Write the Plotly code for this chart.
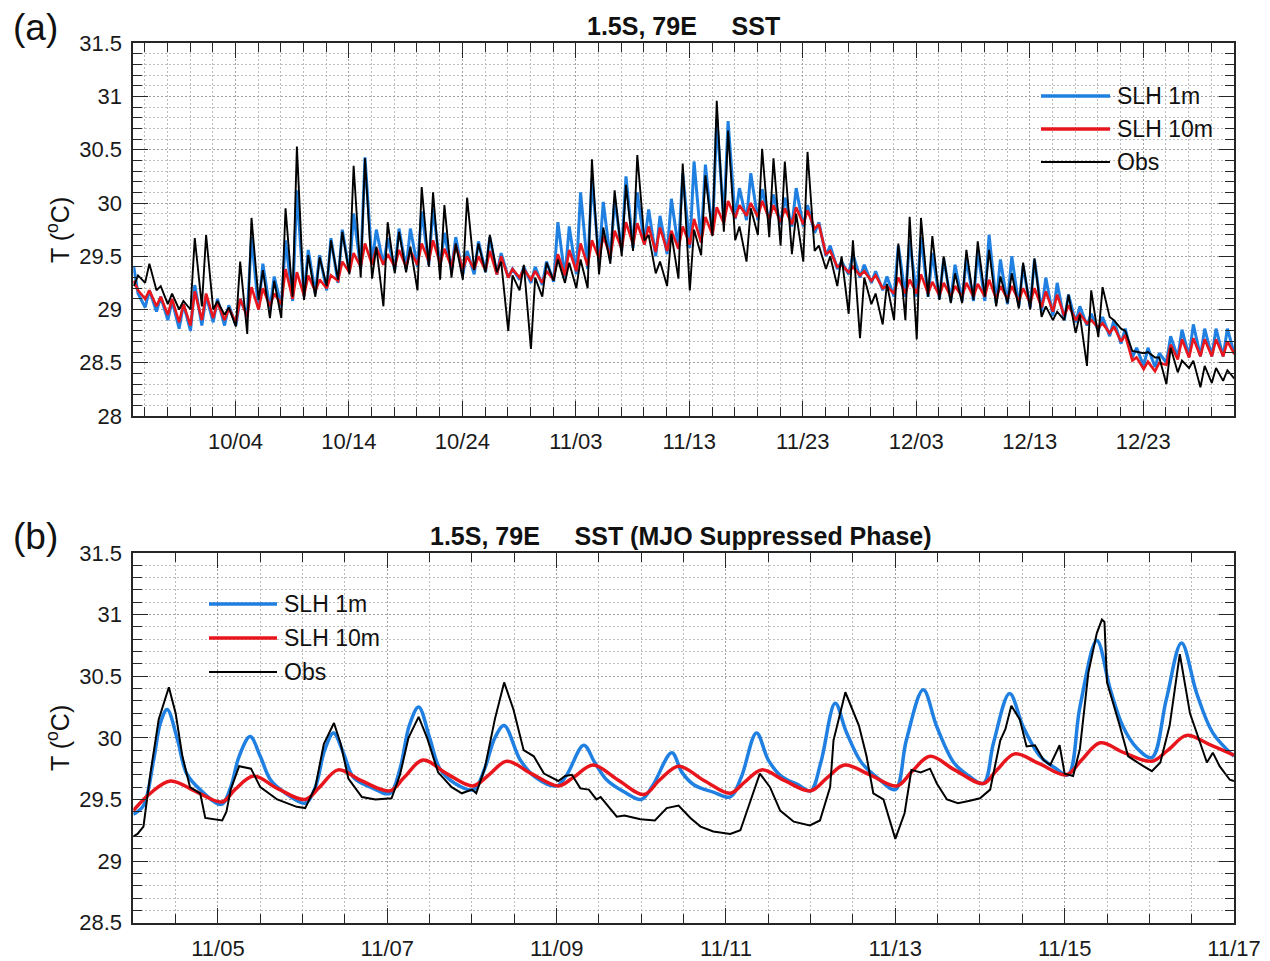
import pandas as pd
import plotly.graph_objects as go

W, H = 1270, 961
FONT = "Arial, 'Liberation Sans', Helvetica, sans-serif"
BLUE = "#1f80e2"
RED = "#e8161c"
BLACK = "#000000"
AXIS = "#262626"

# ---- panel (a): 2011-09-25 .. 2011-12-31, one early-morning (01 UTC) and one
# afternoon (10 UTC) reading per day; the *_am lists carry one extra value (12/31)
a_start = "2011-09-25"
a_blue_am = [29.40, 29.02, 28.98, 28.90, 28.82, 28.80, 28.85, 28.88, 28.85, 28.85,
             28.95, 29.00, 29.00, 29.03, 29.08, 29.12, 29.15, 29.18, 29.25, 29.35,
             29.38, 29.43, 29.42, 29.37, 29.38, 29.40, 29.42, 29.40, 29.37, 29.33,
             29.33, 29.35, 29.33, 29.30, 29.28, 29.25, 29.23, 29.26, 29.30, 29.33,
             29.38, 29.46, 29.47, 29.55, 29.58, 29.61, 29.50, 29.52, 29.57, 29.58,
             29.63, 29.70, 29.84, 29.85, 29.84, 29.84, 29.83, 29.80, 29.78, 29.78,
             29.72, 29.50, 29.38, 29.33, 29.30, 29.25, 29.18, 29.12, 29.12, 29.12,
             29.12, 29.10, 29.08, 29.08, 29.08, 29.08, 29.06, 29.05, 29.03, 29.02,
             28.98, 28.94, 28.90, 28.88, 28.85, 28.80, 28.75, 28.68, 28.55, 28.47,
             28.46, 28.50, 28.55, 28.56, 28.56, 28.56, 28.56, 28.58]
a_blue_pm = [29.15, 29.18, 29.12, 29.08, 29.05, 29.23, 29.13, 29.10, 29.04, 29.10,
             29.68, 29.43, 29.31, 29.65, 30.12, 29.56, 29.51, 29.67, 29.75, 29.90,
             30.43, 29.75, 29.67, 29.76, 29.76, 29.92, 29.95, 29.72, 29.68, 29.55,
             29.64, 29.68, 29.53, 29.38, 29.40, 29.40, 29.45, 29.82, 29.78, 30.10,
             30.23, 30.01, 30.04, 30.25, 30.10, 29.94, 29.88, 30.04, 30.28, 30.39,
             30.36, 30.79, 30.77, 30.14, 30.28, 30.13, 30.08, 30.05, 30.14, 29.98,
             29.82, 29.60, 29.45, 29.52, 29.42, 29.36, 29.31, 29.60, 29.65, 29.68,
             29.53, 29.48, 29.42, 29.48, 29.55, 29.70, 29.47, 29.50, 29.41, 29.47,
             29.30, 29.25, 29.14, 29.03, 28.96, 28.93, 28.90, 28.82, 28.64, 28.64,
             28.59, 28.75, 28.81, 28.86, 28.82, 28.82, 28.82]
a_red_am = [29.27, 29.10, 29.03, 28.95, 28.88, 28.85, 28.90, 28.92, 28.90, 28.88,
            28.93, 29.00, 29.03, 29.05, 29.10, 29.13, 29.17, 29.20, 29.27, 29.35,
            29.40, 29.42, 29.42, 29.40, 29.40, 29.42, 29.45, 29.43, 29.40, 29.38,
            29.38, 29.37, 29.33, 29.30, 29.30, 29.28, 29.25, 29.28, 29.32, 29.36,
            29.41, 29.48, 29.50, 29.57, 29.61, 29.61, 29.54, 29.55, 29.57, 29.61,
            29.63, 29.70, 29.81, 29.86, 29.88, 29.87, 29.85, 29.82, 29.80, 29.80,
            29.76, 29.52, 29.40, 29.35, 29.32, 29.27, 29.20, 29.15, 29.15, 29.15,
            29.15, 29.13, 29.12, 29.12, 29.12, 29.12, 29.10, 29.10, 29.08, 29.06,
            29.02, 28.98, 28.94, 28.90, 28.87, 28.83, 28.78, 28.70, 28.52, 28.44,
            28.42, 28.48, 28.53, 28.55, 28.56, 28.56, 28.56, 28.58]
a_red_pm = [29.18, 29.18, 29.12, 29.10, 29.05, 29.17, 29.15, 29.07, 29.01, 29.10,
            29.21, 29.20, 29.15, 29.38, 29.35, 29.32, 29.28, 29.32, 29.45, 29.53,
            29.62, 29.58, 29.52, 29.56, 29.55, 29.62, 29.65, 29.57, 29.60, 29.50,
            29.50, 29.55, 29.50, 29.38, 29.38, 29.36, 29.36, 29.52, 29.56, 29.62,
            29.65, 29.69, 29.74, 29.82, 29.81, 29.78, 29.77, 29.74, 29.78, 29.85,
            29.87, 29.96, 30.02, 29.98, 30.00, 30.02, 29.98, 29.95, 29.96, 29.93,
            29.80, 29.55, 29.42, 29.40, 29.36, 29.32, 29.22, 29.30, 29.28, 29.33,
            29.26, 29.25, 29.22, 29.25, 29.24, 29.28, 29.22, 29.22, 29.20, 29.20,
            29.17, 29.14, 29.04, 28.96, 28.90, 28.87, 28.84, 28.76, 28.55, 28.51,
            28.50, 28.67, 28.72, 28.73, 28.72, 28.72, 28.70]
a_obs_am = [29.22, 29.25, 29.18, 29.05, 29.00, 29.00, 29.03, 29.00, 28.95, 28.84,
            28.77, 29.09, 28.92, 28.92, 29.12, 29.09, 29.12, 29.22, 29.28, 29.33,
            29.30, 29.29, 29.03, 29.34, 29.35, 29.18, 29.40, 29.28, 29.30, 29.28,
            29.37, 29.35, 29.35, 28.80, 29.18, 28.63, 29.12, 29.27, 29.25, 29.20,
            29.20, 29.33, 29.43, 29.50, 29.55, 29.65, 29.34, 29.22, 29.29, 29.18,
            29.51, 29.69, 29.73, 29.65, 29.45, 29.70, 29.68, 29.60, 29.52, 29.45,
            29.55, 29.38, 29.22, 28.96, 28.73, 29.05, 28.86, 28.90, 28.90, 28.72,
            29.12, 29.09, 29.06, 29.06, 29.09, 29.12, 29.03, 29.06, 29.01, 29.00,
            28.93, 28.90, 28.90, 28.78, 28.47, 28.74, 28.93, 28.82, 28.61, 28.59,
            28.55, 28.30, 28.41, 28.45, 28.27, 28.31, 28.33, 28.35]
a_obs_pm = [29.32, 29.43, 29.22, 29.15, 29.08, 29.67, 29.70, 29.08, 29.02, 29.45,
            29.86, 29.37, 29.27, 29.95, 30.53, 29.51, 29.49, 29.65, 29.73, 30.35,
            30.42, 29.59, 29.82, 29.73, 29.59, 30.15, 30.10, 29.98, 29.62, 30.05,
            29.62, 29.70, 29.45, 29.32, 29.42, 29.30, 29.44, 29.47, 29.44, 29.47,
            30.41, 29.77, 30.12, 30.17, 30.45, 29.70, 29.45, 29.71, 30.37, 29.75,
            30.26, 30.96, 30.68, 29.78, 29.95, 30.51, 30.42, 30.39, 29.90, 30.48,
            29.60, 29.50, 29.50, 29.65, 29.30, 29.15, 29.24, 29.62, 29.87, 29.86,
            29.69, 29.50, 29.34, 29.56, 29.64, 29.56, 29.31, 29.34, 29.44, 29.48,
            29.03, 28.98, 29.14, 28.95, 29.18, 29.21, 28.90, 28.80, 28.60, 28.60,
            28.55, 28.64, 28.52, 28.52, 28.47, 28.45, 28.43]

# ---- panel (b): 2011-11-04 .. 2011-11-17, sample time in days since 11/04
b_start = "2011-11-04"
b_blue_t = [0.00, 0.12, 0.24, 0.32, 0.40, 0.52, 0.63, 0.79, 1.04, 1.15, 1.25, 1.38,
            1.50, 1.62, 1.80, 2.03, 2.15, 2.26, 2.365, 2.48, 2.60, 2.80, 3.03, 3.15,
            3.26, 3.37, 3.50, 3.62, 3.80, 4.02, 4.15, 4.27, 4.38, 4.57, 4.75, 5.00,
            5.12, 5.32, 5.45, 5.59, 5.80, 6.00, 6.14, 6.36, 6.48, 6.62, 6.85, 7.05,
            7.18, 7.36, 7.50, 7.65, 7.85, 8.00, 8.12, 8.29, 8.42, 8.60, 8.80, 9.00,
            9.13, 9.33, 9.49, 9.69, 9.85, 10.04, 10.16, 10.35, 10.51, 10.71, 10.88,
            11.04, 11.18, 11.38, 11.54, 11.69, 11.85, 12.03, 12.20, 12.38, 12.56,
            12.75, 13.00]
b_blue = [29.38, 29.45, 29.82, 30.12, 30.23, 29.99, 29.71, 29.58, 29.46, 29.60, 29.85, 30.01,
          29.85, 29.66, 29.55, 29.47, 29.60, 29.90, 30.04, 29.88, 29.68, 29.60, 29.55, 29.75,
          30.10, 30.25, 30.00, 29.75, 29.63, 29.58, 29.75, 30.00, 30.10, 29.82, 29.68, 29.61,
          29.70, 29.94, 29.80, 29.66, 29.56, 29.50, 29.62, 29.88, 29.72, 29.62, 29.56, 29.52,
          29.68, 30.04, 29.82, 29.69, 29.62, 29.57, 29.80, 30.28, 30.05, 29.80, 29.67, 29.58,
          29.98, 30.39, 30.09, 29.80, 29.70, 29.63, 29.96, 30.36, 30.09, 29.85, 29.76,
          29.70, 30.25, 30.79, 30.39, 30.09, 29.92, 29.84, 30.31, 30.77, 30.36,
          30.04, 29.85]
b_red_t = [0.00, 0.20, 0.44, 0.75, 1.05, 1.20, 1.42, 1.70, 2.03, 2.20, 2.42, 2.70,
           3.03, 3.20, 3.42, 3.70, 4.01, 4.20, 4.41, 4.70, 5.02, 5.20, 5.43, 5.72,
           6.03, 6.22, 6.44, 6.75, 7.05, 7.22, 7.42, 7.70, 8.00, 8.20, 8.40, 8.70,
           9.02, 9.20, 9.41, 9.70, 10.04, 10.20, 10.41, 10.70, 11.02, 11.20, 11.42,
           11.70, 12.03, 12.22, 12.44, 12.70, 13.00]
b_red = [29.41, 29.55, 29.65, 29.56, 29.48, 29.58, 29.69, 29.59, 29.50, 29.60, 29.74, 29.65,
         29.57, 29.68, 29.82, 29.71, 29.61, 29.70, 29.81, 29.71, 29.61, 29.68, 29.78, 29.66,
         29.54, 29.66, 29.77, 29.65, 29.55, 29.64, 29.74, 29.65, 29.57, 29.68, 29.78, 29.70,
         29.61, 29.73, 29.85, 29.74, 29.63, 29.74, 29.87, 29.79, 29.70, 29.82, 29.96,
         29.88, 29.81, 29.90, 30.02, 29.95, 29.86]
b_obs_t = [0.00, 0.05, 0.12, 0.20, 0.30, 0.42, 0.50, 0.58, 0.67, 0.79,
           0.85, 0.95, 1.05, 1.10, 1.15, 1.25, 1.39, 1.50, 1.70, 1.93,
           2.03, 2.15, 2.25, 2.37, 2.45, 2.54, 2.70, 2.86, 3.05, 3.15,
           3.25, 3.37, 3.47, 3.60, 3.76, 3.88, 4.00, 4.05, 4.15, 4.27,
           4.38, 4.49, 4.61, 4.73, 4.85, 5.02, 5.10, 5.18, 5.28, 5.38,
           5.47, 5.52, 5.71, 5.80, 5.99, 6.16, 6.30, 6.44, 6.58, 6.70,
           6.85, 7.05, 7.17, 7.32, 7.40, 7.52, 7.64, 7.80, 7.99, 8.11,
           8.23, 8.27, 8.41, 8.57, 8.66, 8.74, 8.86, 9.00, 9.11, 9.19,
           9.30, 9.41, 9.49, 9.61, 9.74, 9.88, 10.00, 10.12, 10.18, 10.24,
           10.30, 10.37, 10.47, 10.55, 10.65, 10.75, 10.83, 10.94, 11.00, 11.10,
           11.18, 11.28, 11.38, 11.44, 11.47, 11.50, 11.65, 11.75, 11.93, 12.03,
           12.13, 12.24, 12.36, 12.48, 12.60, 12.68, 12.75, 12.83, 12.95, 13.00]
b_obs = [29.20, 29.22, 29.28, 29.70, 30.15, 30.41, 30.20, 29.85, 29.60, 29.55,
         29.35, 29.34, 29.33, 29.40, 29.58, 29.77, 29.75, 29.60, 29.50, 29.44,
         29.43, 29.60, 29.95, 30.12, 29.95, 29.67, 29.52, 29.50, 29.51, 29.70,
         30.00, 30.17, 30.00, 29.72, 29.60, 29.55, 29.58, 29.55, 29.75, 30.15,
         30.45, 30.23, 29.90, 29.85, 29.71, 29.65, 29.69, 29.70, 29.59, 29.58,
         29.50, 29.52, 29.36, 29.37, 29.34, 29.33, 29.43, 29.45, 29.35, 29.28,
         29.24, 29.22, 29.25, 29.55, 29.71, 29.60, 29.41, 29.32, 29.29, 29.33,
         29.60, 29.98, 30.37, 30.10, 29.85, 29.55, 29.50, 29.18, 29.39, 29.74,
         29.72, 29.75, 29.63, 29.50, 29.47, 29.49, 29.51, 29.58, 29.77, 29.98,
         30.07, 30.26, 30.15, 29.93, 29.94, 29.82, 29.78, 29.94, 29.71, 29.69,
         29.91, 30.53, 30.85, 30.96, 30.94, 30.45, 30.10, 29.85, 29.77, 29.73,
         29.80, 30.10, 30.68, 30.20, 29.96, 29.80, 29.88, 29.77, 29.66, 29.65]

series_names = ["SLH 1m", "SLH 10m", "Obs"]


def daily(start, am, pm):
    t0 = pd.Timestamp(start)
    xs, ys = [], []
    for i, v in enumerate(am):
        xs.append(t0 + pd.Timedelta(days=i, hours=1))
        ys.append(v)
        if i < len(pm):
            xs.append(t0 + pd.Timedelta(days=i, hours=10))
            ys.append(pm[i])
    return xs, ys


def stamped(start, ts):
    t0 = pd.Timestamp(start)
    return [t0 + pd.Timedelta(days=t) for t in ts]


fig = go.Figure()

# ---- panel (a) traces
for am, pm, color, width in [(a_blue_am, a_blue_pm, BLUE, 3),
                             (a_red_am, a_red_pm, RED, 2.6),
                             (a_obs_am, a_obs_pm, BLACK, 1.9)]:
    xs, ys = daily(a_start, am, pm)
    fig.add_trace(go.Scatter(x=xs, y=ys, mode="lines", xaxis="x", yaxis="y",
                             line=dict(color=color, width=width), hoverinfo="skip"))

# ---- panel (b) traces
for ts, vals, color, width, shape in [(b_blue_t, b_blue, BLUE, 3.5, "spline"),
                                      (b_red_t, b_red, RED, 3.5, "spline"),
                                      (b_obs_t, b_obs, BLACK, 2, "linear")]:
    fig.add_trace(go.Scatter(x=stamped(b_start, ts), y=vals, mode="lines",
                             xaxis="x2", yaxis="y2",
                             line=dict(color=color, width=width, shape=shape),
                             hoverinfo="skip"))

grid = dict(showgrid=True, gridcolor="#a0a0a0", griddash="2px,2px", gridwidth=1)
frame = dict(showline=True, linecolor=AXIS, linewidth=1.6, mirror="allticks",
             ticks="inside", ticklen=15, tickwidth=1.4, tickcolor=AXIS,
             zeroline=False, automargin=False, ticklabelstandoff=5,
             tickfont=dict(family=FONT, size=22, color="#1a1a1a"))


def minor(vals):
    return dict(tickmode="array", tickvals=vals, ticks="inside", ticklen=9,
                tickwidth=1.4, tickcolor=AXIS, showgrid=True, gridcolor="#bdbdbd",
                griddash="2px,2px", gridwidth=1)


# minor tick positions: every 2 days in (a), every 12 h in (b), every 0.1 degC
a_minor_x = list(pd.date_range("2011-09-26", "2011-12-31", freq="2D"))
b_minor_x = list(pd.date_range("2011-11-04 12:00", "2011-11-17", freq="12h"))
a_minor_y = [round(28 + 0.1 * k, 1) for k in range(36)]
b_minor_y = [round(28.5 + 0.1 * k, 1) for k in range(31)]

x0, x1 = 133.3 / W, 1234 / W
DAY = 86400000
fig.update_layout(
    xaxis=dict(domain=[x0, x1], anchor="y", type="date",
               range=["2011-09-25", "2011-12-31"], tick0="2011-10-04", dtick=10 * DAY,
               tickformat="%m/%d", minor=minor(a_minor_x), **grid, **frame),
    yaxis=dict(domain=[1 - 416 / H, 1 - 43.3 / H], anchor="x", range=[28, 31.5],
               dtick=0.5, tick0=28, minor=minor(a_minor_y), **grid, **frame),
    xaxis2=dict(domain=[x0, x1], anchor="y2", type="date",
                range=["2011-11-04", "2011-11-17"], tick0="2011-11-05", dtick=2 * DAY,
                tickformat="%m/%d", minor=minor(b_minor_x), **grid, **frame),
    yaxis2=dict(domain=[1 - 922.7 / H, 1 - 553 / H], anchor="x2", range=[28.5, 31.5],
                dtick=0.5, tick0=28.5, minor=minor(b_minor_y), **grid, **frame),
    width=W, height=H, margin=dict(l=0, r=0, t=0, b=0),
    paper_bgcolor="white", plot_bgcolor="white", showlegend=False,
    font=dict(family=FONT, color="#1a1a1a"),
)


def px(x, y):
    return x / W, 1 - y / H


notes = [
    ("(a)", 35, 28, 37, 0),
    ("(b)", 35, 536, 37, 0),
    ("<b>1.5S, 79E\u00a0\u00a0\u00a0\u00a0\u00a0SST</b>", 683, 26, 25, 0),
    ("<b>1.5S, 79E\u00a0\u00a0\u00a0\u00a0\u00a0SST (MJO Suppressed Phase)</b>", 681, 536, 25, 0),
    ("T (<sup>o</sup>C)", 58, 230, 25, -90),
    ("T (<sup>o</sup>C)", 58, 738, 25, -90),
]
for text, x, y, size, angle in notes:
    ax, ay = px(x, y)
    fig.add_annotation(x=ax, y=ay, xref="paper", yref="paper", text=text, showarrow=False,
                       xanchor="center", yanchor="middle", textangle=angle,
                       font=dict(family=FONT, size=size, color="#111111"))

# legends drawn by hand: MATLAB-style long line samples, no box
legend_rows = [
    (1041, 1110, [96, 129, 162]),
    (209, 277, [604, 638, 672]),
]
for xa, xb, ys in legend_rows:
    for name, color, width, y in zip(series_names, [BLUE, RED, BLACK], [3.5, 3.5, 2], ys):
        lx0, ly = px(xa, y)
        lx1, _ = px(xb, y)
        fig.add_shape(type="line", xref="paper", yref="paper", x0=lx0, x1=lx1, y0=ly, y1=ly,
                      line=dict(color=color, width=width))
        tx, _ = px(xb + 5, y)
        fig.add_annotation(x=tx, y=ly, xref="paper", yref="paper", text=name, showarrow=False,
                           xanchor="left", yanchor="middle",
                           font=dict(family=FONT, size=23, color="#111111"))

# the page body has a default 8px margin; drop it so the figure sits at the corner
fig.write_html("out.html", config={"displayModeBar": False},
               post_script="document.body.style.margin='0';")
